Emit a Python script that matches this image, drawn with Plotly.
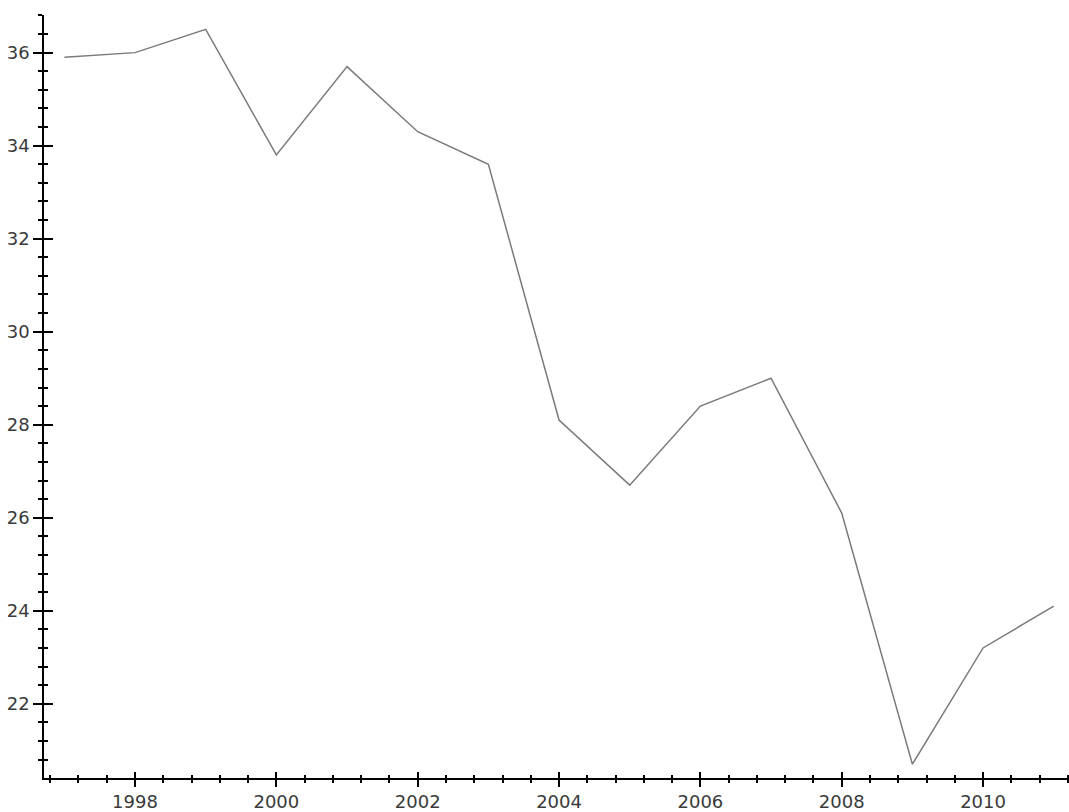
import plotly.graph_objects as go

years = [1997, 1998, 1999, 2000, 2001, 2002, 2003, 2004, 2005, 2006, 2007, 2008, 2009, 2010, 2011]
values = [35.9, 36.0, 36.5, 33.8, 35.7, 34.3, 33.6, 28.1, 26.7, 28.4, 29.0, 26.1, 20.7, 23.2, 24.1]

x_range = [1996.712, 2011.216]
y_range = [20.404, 36.809]

fig = go.Figure()
fig.add_trace(go.Scatter(x=years, y=values, mode="lines",
                         line=dict(color="#7a7a7a", width=1.5), showlegend=False,
                         hoverinfo="x+y"))
# empty trace so the overlay axes (inner half of the crossing ticks) are drawn
fig.add_trace(go.Scatter(x=[], y=[], xaxis="x2", yaxis="y2", mode="lines",
                         showlegend=False, hoverinfo="skip"))

font = dict(family="DejaVu Sans", size=18, color="#3a3a3a")

common_x = dict(range=x_range, showgrid=False, zeroline=False, showline=True,
                linecolor="black", linewidth=1.5, tickcolor="black", tickwidth=1.5,
                tick0=1998, dtick=2)
common_y = dict(range=y_range, showgrid=False, zeroline=False, showline=True,
                linecolor="black", linewidth=1.5, tickcolor="black", tickwidth=1.5,
                tick0=22, dtick=2)

fig.update_layout(
    width=1069, height=812,
    margin=dict(l=44, r=0, t=15, b=26),
    paper_bgcolor="white", plot_bgcolor="white",
    xaxis=dict(**common_x, ticks="outside", ticklen=7, tickfont=font,
               minor=dict(ticks="outside", ticklen=3, dtick=0.4, tick0=1998,
                          tickcolor="black", tickwidth=1.5)),
    yaxis=dict(**common_y, ticks="outside", ticklen=9, tickfont=font,
               minor=dict(ticks="outside", ticklen=4, dtick=0.4, tick0=22,
                          tickcolor="black", tickwidth=1.5)),
    xaxis2=dict(**common_x, overlaying="x", side="bottom", anchor="y2",
                ticks="inside", ticklen=6, showticklabels=False,
                minor=dict(ticks="inside", ticklen=3, dtick=0.4, tick0=1998,
                           tickcolor="black", tickwidth=1.5)),
    yaxis2=dict(**common_y, overlaying="y", side="left", anchor="x2",
                ticks="inside", ticklen=9, showticklabels=False,
                minor=dict(ticks="inside", ticklen=4, dtick=0.4, tick0=22,
                           tickcolor="black", tickwidth=1.5)),
)

fig.write_html("out.html")
